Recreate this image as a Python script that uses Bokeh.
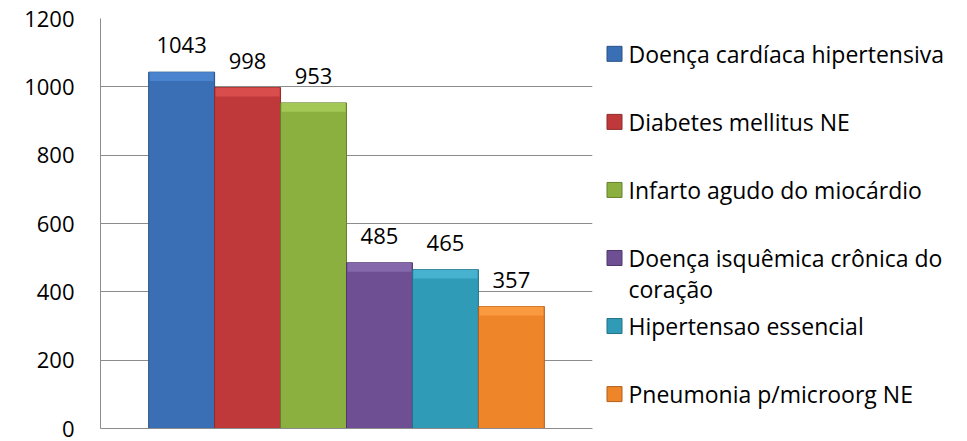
import textwrap
from bokeh.plotting import figure
from bokeh.models import Range1d, FixedTicker, ColumnDataSource
from bokeh.layouts import row
from bokeh.core.properties import value
from bokeh.embed import file_html
from bokeh.resources import INLINE

# ---- data ----
categories = [
    "Doença cardíaca hipertensiva",
    "Diabetes mellitus NE",
    "Infarto agudo do miocárdio",
    "Doença isquêmica crônica do coração",
    "Hipertensao essencial",
    "Pneumonia p/microorg NE",
]
counts = [1043, 998, 953, 485, 465, 357]
y_ticks = [0, 200, 400, 600, 800, 1000, 1200]

# ---- styles ----
body_colors = ["#3a6fb5", "#c0393a", "#8cb040", "#6f4f94", "#2f9bb6", "#ef8529"]
top_colors = ["#4a84cf", "#d94e4c", "#a3c856", "#8567ab", "#46b2cf", "#f99a40"]
edge_colors = ["#2a5286", "#8e2a2a", "#65802e", "#4f386b", "#227185", "#b05f1c"]
FONT = "Open Sans"
FS = "22px"

xs = list(range(len(counts)))
bevel = 26  # data units of the lighter top band
src = ColumnDataSource(dict(
    x=xs, top=counts, lbl=[str(c) for c in counts],
    band_bottom=[c - bevel for c in counts],
    body=body_colors, topc=top_colors, edge=edge_colors,
))

p = figure(width=600, height=441, output_backend="svg", toolbar_location=None,
           x_range=Range1d(-1.23, 6.23), y_range=Range1d(0, 1200),
           min_border_left=100, min_border_right=8, min_border_top=18,
           min_border_bottom=13)
p.outline_line_color = None
p.background_fill_color = "white"
p.border_fill_color = "white"

p.vbar(x="x", top="top", bottom=0, width=1.0, source=src,
       fill_color="body", line_color="edge", line_width=1)
p.vbar(x="x", top="top", bottom="band_bottom", width=0.97, source=src,
       fill_color="topc", line_color=None)
p.text(x="x", y="top", text="lbl", source=src, text_align="center",
       text_baseline="middle", y_offset=-27, text_font=value(FONT),
       text_font_size=FS, text_color="black")

p.xgrid.visible = False
p.ygrid.grid_line_color = "#8c8c8c"
p.ygrid.grid_line_width = 1
p.yaxis.ticker = FixedTicker(ticks=y_ticks)
p.yaxis.axis_line_color = "#8c8c8c"
p.yaxis.major_tick_line_color = None
p.yaxis.minor_tick_line_color = None
p.yaxis.major_tick_out = 0
p.yaxis.major_tick_in = 0
p.yaxis.major_label_standoff = 26
p.yaxis.major_label_text_font = FONT
p.yaxis.major_label_text_font_size = FS
p.yaxis.major_label_text_color = "black"

p.xaxis.ticker = FixedTicker(ticks=[])
p.xaxis.axis_line_color = "#8c8c8c"
p.xaxis.major_tick_line_color = None
p.xaxis.minor_tick_line_color = None
p.xaxis.major_tick_out = 0
p.xaxis.major_label_standoff = 0
p.xaxis.major_label_text_font_size = "0px"

# ---- legend (separate panel, pixel coordinates) ----
LW, LH = 367, 441
lg = figure(width=LW, height=LH, output_backend="svg", toolbar_location=None,
            x_range=Range1d(0, LW), y_range=Range1d(LH, 0),
            min_border=0)
lg.outline_line_color = None
lg.axis.visible = False
lg.grid.visible = False

slot0, step, line_gap = 38, 73.2, 33
sq_x, txt_x = 14, 28
sx, sy, tx, ty, tt = [], [], [], [], []
for i, name in enumerate(categories):
    y0 = slot0 + i * step
    sx.append(sq_x); sy.append(y0)
    for j, line in enumerate(textwrap.wrap(name, 28)):
        tx.append(txt_x); ty.append(y0 + j * line_gap); tt.append(line)

lg.rect(x=sx, y=sy, width=15, height=15, width_units="screen",
        height_units="screen", fill_color=body_colors, line_color=edge_colors)
lg.text(x=tx, y=ty, text=tt, text_align="left", text_baseline="middle",
        text_font=value(FONT), text_font_size="23px", text_color="black")

layout = row(p, lg)
open("out.html", "w").write(file_html(layout, INLINE))
